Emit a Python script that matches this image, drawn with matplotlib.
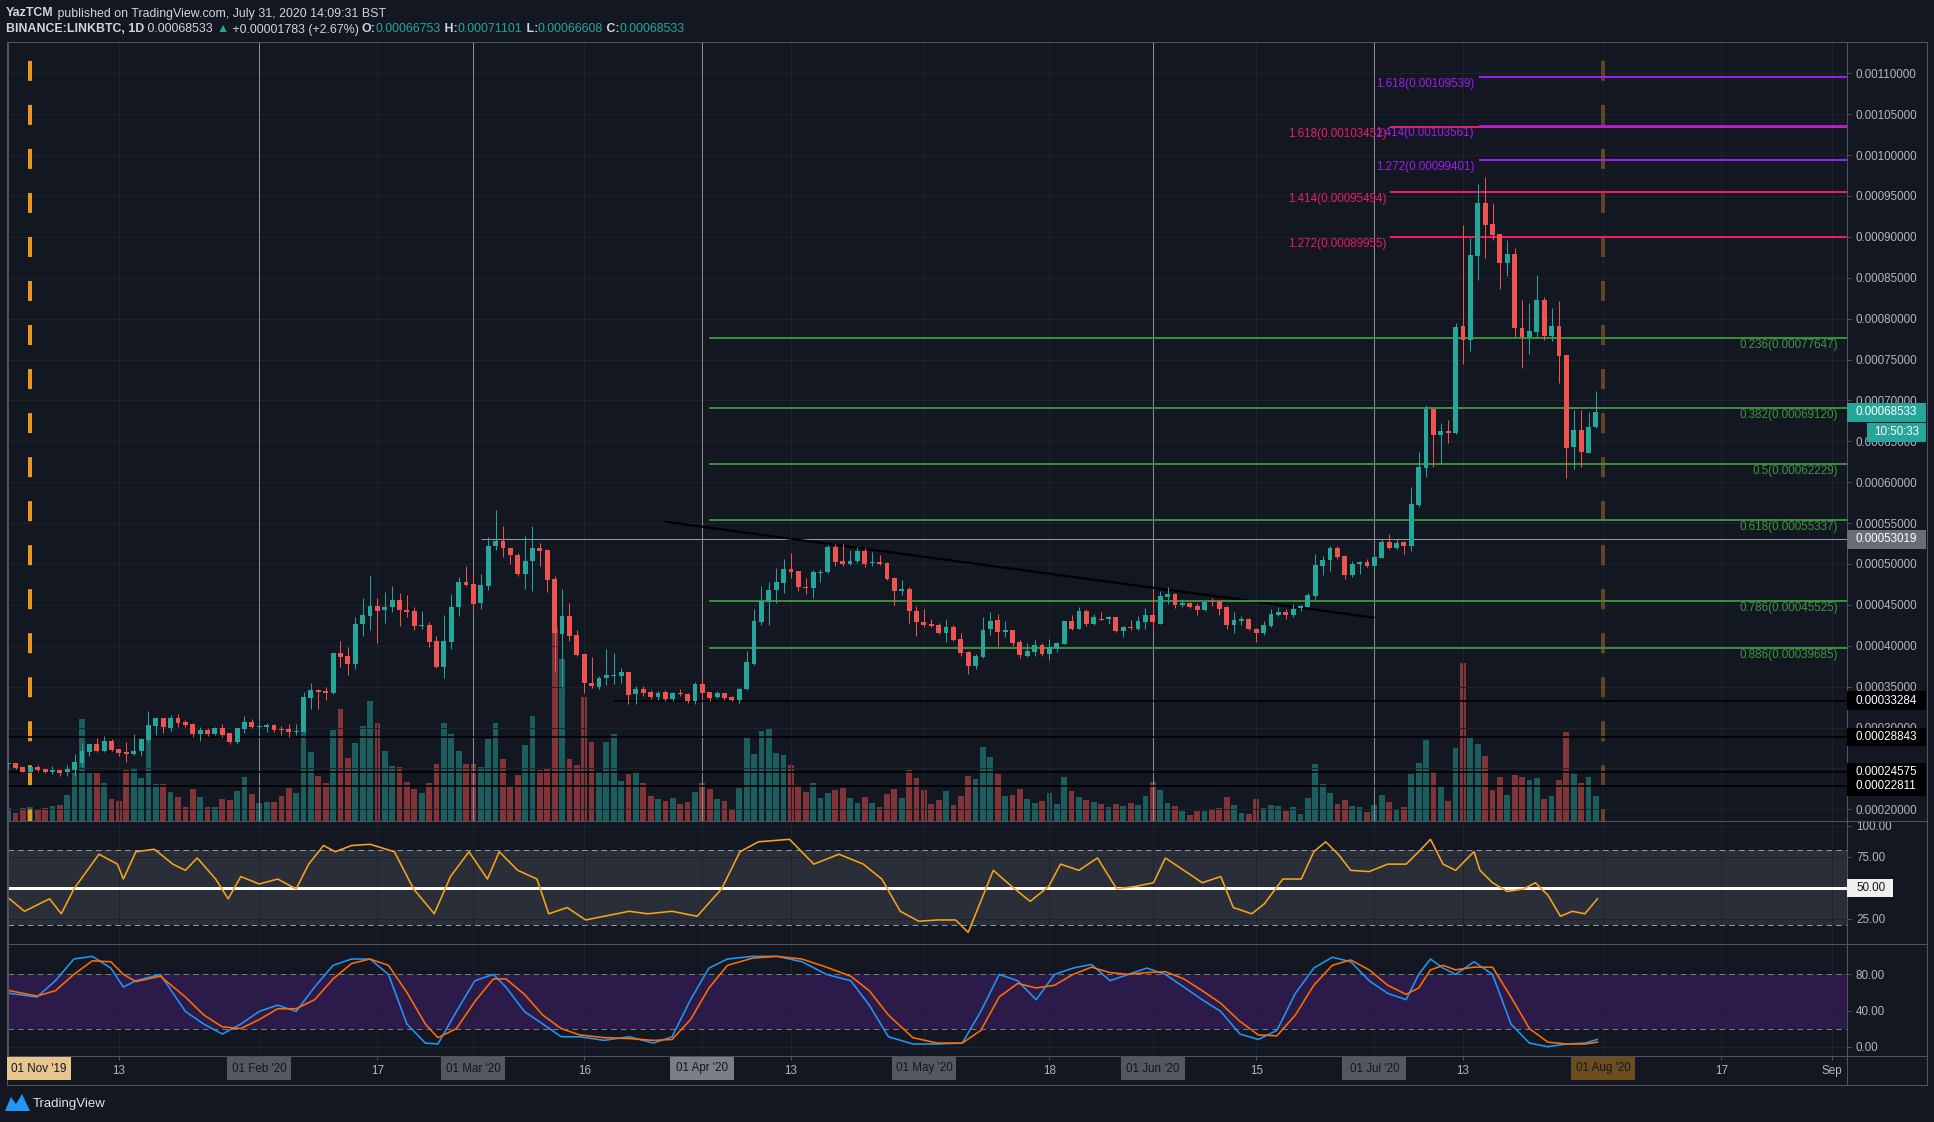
import numpy as np
import matplotlib
matplotlib.use("Agg")
import matplotlib.pyplot as plt
from matplotlib.patches import Rectangle, Polygon
from matplotlib.lines import Line2D
from matplotlib.transforms import IdentityTransform

plt.rcParams['lines.scale_dashes'] = False
FONT = ['Liberation Sans', 'DejaVu Sans']
plt.rcParams['font.family'] = FONT

# ---------------------------------------------------------------- data
# BINANCE:LINKBTC daily candles, day index 0 = 01 Jan 2020, first candle 29 Dec 2019
first_day = -3
# prices in units of 1e-5 BTC
opens = [
    25.55, 25.61, 25.16, 24.59, 25.16, 24.88, 24.59, 24.80, 24.51, 24.80,
    25.69, 27.03, 27.97, 27.11, 28.33, 27.36, 26.95, 26.75, 27.11, 28.46,
    30.20, 31.14, 29.96, 31.14, 30.65, 30.41, 29.23, 29.67, 29.23, 29.92,
    29.31, 28.25, 29.80, 30.65, 30.10, 30.04, 30.28, 29.80, 29.80, 29.50,
    29.47, 33.62, 34.55, 34.47, 34.19, 39.07, 38.70, 37.76, 42.64, 43.62,
    44.88, 44.35, 44.72, 45.65, 44.43, 44.19, 42.40, 42.56, 40.53, 37.40,
    40.45, 44.76, 47.85, 47.60, 45.20, 47.36, 52.15, 52.85, 51.99, 51.10,
    48.74, 50.33, 51.99, 51.75, 48.13, 41.42, 43.58, 41.26, 38.98, 35.45,
    34.96, 36.06, 36.34, 36.30, 36.75, 34.11, 34.76, 34.35, 33.74, 34.35,
    33.50, 34.23, 34.15, 33.25, 35.28, 34.35, 33.74, 34.19, 33.74, 33.41,
    34.72, 37.76, 42.89, 45.33, 46.79, 47.72, 49.43, 49.19, 47.24, 47.03,
    48.90, 48.98, 52.11, 50.41, 50.04, 50.41, 51.63, 50.12, 50.28, 50.16,
    48.33, 46.67, 46.99, 44.23, 42.85, 42.60, 42.48, 41.54, 42.24, 40.77,
    39.19, 37.52, 38.62, 42.03, 43.09, 41.67, 41.87, 40.41, 38.74, 39.19,
    40.04, 38.94, 39.76, 40.16, 42.97, 42.11, 44.19, 42.60, 43.33, 43.25,
    43.46, 41.79, 42.24, 42.11, 42.89, 43.70, 42.72, 46.02, 46.38, 45.04,
    45.28, 44.92, 44.43, 45.53, 45.53, 44.72, 42.48, 42.97, 43.33, 42.11,
    41.50, 42.36, 43.82, 44.07, 43.82, 44.67, 44.80, 46.14, 49.80, 50.53,
    51.99, 51.02, 48.70, 50.04, 50.28, 49.80, 50.77, 52.72, 51.99, 52.67,
    52.15, 57.27, 61.70, 68.90, 65.75, 66.23, 65.97, 79.11, 77.44, 87.64,
    94.14, 91.57, 90.37, 86.80, 87.91, 78.90, 77.70, 78.33, 82.25, 77.90,
    79.11, 75.55, 64.29, 66.33, 63.62, 66.753]
highs = [
    25.65, 25.65, 25.20, 25.20, 25.37, 24.90, 25.28, 24.92, 25.37, 26.71,
    28.05, 28.00, 28.70, 28.94, 28.58, 27.40, 28.21, 29.19, 28.70, 31.99,
    31.20, 31.20, 31.50, 31.63, 30.89, 30.53, 30.04, 29.92, 30.04, 30.41,
    29.35, 30.04, 31.38, 31.02, 30.89, 30.53, 30.41, 30.16, 30.41, 30.41,
    34.31, 35.41, 34.67, 34.92, 39.10, 40.53, 39.80, 43.46, 45.81, 48.70,
    45.89, 46.59, 47.36, 46.50, 46.22, 44.80, 44.19, 42.93, 41.14, 43.70,
    46.38, 48.46, 49.80, 48.82, 48.78, 53.25, 56.63, 54.67, 52.00, 51.38,
    53.46, 54.67, 52.52, 51.87, 48.50, 46.99, 45.28, 41.87, 39.00, 38.58,
    36.34, 39.55, 39.07, 37.24, 36.80, 35.08, 35.04, 34.63, 34.47, 34.63,
    34.30, 34.67, 34.20, 35.53, 36.34, 34.40, 34.51, 34.25, 33.86, 34.80,
    39.39, 44.55, 47.32, 47.85, 49.55, 50.65, 51.38, 49.20, 48.29, 49.31,
    49.43, 52.28, 52.48, 52.48, 51.75, 52.11, 51.99, 51.50, 51.14, 50.20,
    48.40, 48.09, 47.24, 44.84, 44.47, 43.33, 42.76, 43.33, 42.56, 41.59,
    39.39, 38.98, 43.46, 44.07, 43.94, 42.97, 41.90, 40.65, 40.37, 40.65,
    40.28, 40.77, 40.41, 43.00, 43.82, 44.80, 44.55, 43.94, 44.07, 43.58,
    43.50, 42.36, 43.09, 43.58, 44.67, 46.87, 46.75, 47.24, 46.40, 45.77,
    45.41, 45.28, 45.45, 45.89, 45.55, 44.84, 44.07, 43.58, 43.35, 42.15,
    42.97, 44.55, 44.80, 44.55, 45.16, 45.04, 46.50, 51.26, 51.02, 52.24,
    52.24, 51.05, 50.41, 50.41, 50.65, 51.38, 53.09, 53.70, 53.09, 52.80,
    59.40, 63.67, 69.40, 68.95, 67.20, 67.60, 79.50, 91.40, 89.85, 96.50,
    97.34, 94.10, 90.40, 89.64, 88.64, 82.30, 81.90, 85.34, 82.60, 81.31,
    82.15, 75.60, 68.79, 68.79, 68.53, 71.101]
lows = [
    24.88, 24.96, 24.55, 24.50, 24.59, 24.39, 24.35, 24.11, 24.11, 24.11,
    25.20, 26.54, 26.99, 27.03, 27.15, 26.54, 25.81, 26.63, 26.54, 28.25,
    29.11, 29.35, 29.59, 30.08, 30.08, 28.86, 28.37, 28.98, 29.07, 28.86,
    28.01, 28.01, 29.35, 29.96, 29.35, 29.47, 29.47, 29.07, 28.82, 29.07,
    29.40, 32.28, 32.28, 33.37, 34.11, 37.40, 36.38, 37.15, 41.18, 41.91,
    40.33, 42.76, 44.11, 42.40, 43.50, 41.91, 42.03, 39.84, 37.28, 36.06,
    39.59, 43.62, 47.36, 44.35, 44.47, 46.83, 51.75, 50.81, 50.00, 48.50,
    46.91, 46.75, 49.72, 46.54, 36.91, 34.88, 40.57, 38.74, 34.23, 34.84,
    34.72, 35.24, 35.33, 35.45, 32.89, 32.89, 33.86, 33.54, 33.41, 33.25,
    33.25, 33.86, 33.05, 32.89, 33.50, 33.25, 33.58, 33.41, 33.25, 33.01,
    34.63, 37.64, 42.56, 42.52, 45.20, 46.42, 48.33, 46.67, 46.30, 45.81,
    47.85, 48.86, 49.72, 49.80, 49.92, 50.16, 49.67, 49.80, 49.88, 48.09,
    44.96, 46.18, 42.76, 41.18, 42.28, 42.28, 41.38, 40.45, 40.57, 38.74,
    36.54, 37.15, 38.50, 41.30, 39.96, 41.06, 39.96, 38.50, 38.62, 38.74,
    38.70, 38.25, 39.19, 40.16, 41.91, 42.03, 42.40, 42.48, 43.13, 42.72,
    41.63, 41.06, 41.91, 41.91, 42.11, 41.91, 42.64, 45.16, 44.67, 44.80,
    44.67, 43.70, 44.23, 44.92, 43.82, 41.99, 41.50, 42.48, 41.95, 40.41,
    41.26, 42.24, 43.62, 43.33, 43.46, 44.19, 44.72, 45.77, 48.70, 49.19,
    50.65, 48.21, 48.46, 48.82, 49.67, 49.55, 50.70, 51.87, 51.87, 51.20,
    51.60, 57.00, 60.60, 61.83, 62.30, 64.80, 65.86, 74.50, 76.08, 84.70,
    87.44, 89.60, 83.67, 85.23, 77.80, 73.93, 75.70, 77.80, 77.44, 77.28,
    72.15, 60.50, 61.62, 61.88, 63.51, 66.608]
closes = [
    25.61, 25.08, 24.59, 25.12, 24.84, 24.59, 24.80, 24.39, 24.92, 25.81,
    27.11, 27.97, 27.11, 28.33, 27.24, 26.91, 26.79, 27.11, 28.58, 30.28,
    31.14, 30.08, 31.14, 30.53, 30.28, 29.23, 29.67, 29.23, 29.92, 29.07,
    28.25, 29.92, 30.65, 30.04, 30.16, 30.28, 29.67, 29.72, 29.47, 29.55,
    33.70, 34.55, 34.35, 34.23, 39.07, 38.62, 37.76, 42.72, 43.70, 44.88,
    44.23, 44.76, 45.65, 44.35, 44.11, 42.40, 42.56, 40.45, 37.40, 40.53,
    44.76, 47.85, 47.48, 45.08, 47.48, 52.24, 52.85, 51.95, 51.06, 48.74,
    50.41, 51.99, 51.54, 48.01, 41.54, 43.58, 41.18, 38.86, 35.45, 35.08,
    36.10, 36.38, 36.40, 36.75, 33.98, 34.76, 34.23, 33.74, 34.27, 33.50,
    34.23, 34.11, 33.25, 35.28, 34.23, 33.62, 34.23, 33.62, 33.41, 34.76,
    37.97, 42.97, 45.45, 46.87, 47.85, 49.43, 49.07, 47.15, 47.03, 49.07,
    49.07, 52.11, 50.28, 50.04, 50.41, 51.63, 50.04, 50.28, 50.04, 48.21,
    46.67, 46.99, 44.23, 42.89, 42.52, 42.40, 41.54, 42.24, 40.69, 39.11,
    37.52, 38.70, 41.95, 42.97, 41.67, 41.87, 40.28, 38.86, 39.31, 40.04,
    38.94, 39.88, 40.28, 42.97, 42.07, 44.19, 42.60, 43.46, 43.21, 43.46,
    41.75, 42.24, 42.15, 42.97, 43.70, 42.85, 46.14, 46.38, 45.04, 45.28,
    44.80, 44.43, 45.41, 45.41, 44.55, 42.48, 43.09, 43.33, 41.99, 41.50,
    42.48, 43.94, 44.07, 43.82, 44.55, 44.92, 46.26, 49.92, 50.53, 51.99,
    50.89, 48.70, 50.04, 50.28, 49.80, 50.89, 52.72, 51.99, 52.60, 52.20,
    57.37, 61.83, 68.90, 65.75, 66.23, 66.02, 78.96, 77.44, 87.80, 94.14,
    91.47, 90.21, 86.80, 87.91, 78.90, 77.70, 78.48, 82.25, 77.90, 79.11,
    75.45, 64.19, 66.33, 63.72, 66.70, 68.533]
# relative volume
volume = [
    39, 24, 39, 42, 36, 39, 45, 48, 78, 150,
    306, 142, 142, 114, 66, 60, 153, 156, 129, 275,
    111, 111, 87, 72, 42, 96, 72, 42, 42, 66,
    63, 90, 132, 81, 54, 57, 57, 75, 99, 84,
    303, 207, 135, 114, 273, 336, 189, 234, 285, 360,
    294, 210, 165, 162, 117, 96, 84, 114, 171, 294,
    261, 210, 171, 171, 162, 246, 294, 186, 108, 138,
    228, 315, 153, 159, 582, 486, 186, 168, 372, 237,
    150, 237, 261, 120, 141, 150, 114, 75, 66, 60,
    69, 51, 57, 87, 114, 96, 66, 60, 33, 99,
    252, 201, 270, 279, 204, 198, 168, 108, 87, 114,
    69, 84, 93, 99, 69, 54, 72, 54, 42, 81,
    96, 69, 153, 129, 93, 51, 63, 90, 48, 75,
    135, 126, 222, 192, 141, 75, 78, 96, 66, 54,
    60, 84, 51, 132, 90, 72, 63, 57, 51, 42,
    51, 45, 54, 48, 75, 117, 93, 54, 45, 30,
    18, 30, 30, 36, 39, 72, 48, 24, 21, 66,
    39, 48, 45, 30, 42, 21, 69, 171, 111, 84,
    51, 63, 45, 42, 27, 48, 78, 57, 33, 40,
    139, 172, 242, 146, 100, 60, 217, 473, 251, 229,
    193, 91, 130, 78, 136, 132, 123, 127, 64, 73,
    121, 265, 141, 112, 130, 73]

# RSI
rsi_days = [-2.8, -0.8, 2.6, 4.2, 5.9, 9.3, 11.8, 12.6, 14.3, 16.8, 19.3, 21, 22.6, 25.1, 26.8, 28.5,
            31, 33.5, 36, 37.7, 39.7, 41.3, 43.5, 46, 49.3, 51.9, 54.7, 56.9, 59.4, 61.9, 63.5, 66,
            68.6, 70.2, 72.7, 75.2, 77.7, 81.1, 83.6, 86.9, 90.3, 93.6, 96.1, 98.6, 102.8, 106.1,
            109.5, 112.8, 115.3, 117.8, 120.3, 122.8, 125.3, 127, 128.7, 130.4, 132.9, 135.4, 137.9,
            139.5, 142, 144.5, 147.1, 149.6, 152.1, 153.7, 156.2, 158.7, 161.2, 162.9, 165.4, 167.1,
            169.6, 172.1, 173.8, 175.4, 177.1, 178.8, 181.3, 183.8, 186.3, 188, 189.6, 191.3, 193,
            195.5, 196.3, 198, 200, 202.2, 203.8, 205.5, 207.2, 208.8, 210.5, 212.2]
rsi_vals = [41, 31, 41, 29, 49, 77, 69, 57, 79, 81, 69, 64, 74, 57, 41, 59,
            53, 57, 49, 69, 84, 79, 84, 85, 79, 49, 29, 59, 79, 57, 79, 64,
            57, 29, 34, 24, 27, 31, 29, 31, 27, 49, 79, 87, 89, 69,
            77, 69, 57, 31, 23, 24, 24, 14, 39, 64, 51, 39, 51,
            69, 64, 74, 49, 51, 54, 74, 64, 54, 59, 34, 29, 37,
            57, 57, 79, 87, 77, 64, 63, 69, 69, 79, 89, 69, 64,
            79, 64, 54, 47, 49, 54, 44, 27, 31, 29, 41]

# Stochastic RSI
st_days = [-2.8, 0.9, 3.4, 5.9, 8.4, 10.9, 12.6, 14.3, 17.6, 21, 23.5, 26, 28.5, 31, 33.5, 36, 38.5,
           41, 43.5, 46, 48.5, 51, 53.5, 55.2, 57.7, 60.2, 62.7, 64.4, 66.9, 69.4, 71.9, 74.4, 77.7,
           81.1, 84.4, 86.9, 89.4, 91.9, 94.4, 97.8, 101.1, 104.5, 107.8, 111.1, 113.6, 116.2, 119.5,
           122.8, 126.2, 128.7, 131.2, 133.7, 136.2, 138.7, 141.2, 143.7, 146.2, 148.7, 151.2, 153.7,
           156.2, 158.7, 161.2, 163.8, 166.3, 168.8, 171.3, 173.8, 176.3, 178.8, 181.3, 183.8, 186.3,
           188, 189.6, 191.3, 193, 195.5, 198, 200.5, 203, 205.5, 208, 210.5, 212.2]
st_k = [59, 55, 73, 97, 100, 87, 66, 73, 80, 39, 25, 14, 25, 39, 46, 39, 66,
        90, 97, 97, 80, 25, 4, 3, 39, 73, 80, 66, 39, 25, 11, 11, 7,
        11, 4, 11, 52, 87, 97, 100, 100, 94, 80, 73, 46, 11, 3,
        3, 4, 39, 80, 73, 52, 80, 87, 91, 73, 80, 87, 80,
        66, 52, 39, 14, 8, 18, 59, 87, 99, 94, 73, 59, 52,
        80, 97, 87, 80, 94, 80, 25, 4, 0, 3, 4, 8]
st_d = [62, 56, 62, 80, 95, 94, 80, 72, 78, 55, 35, 22, 20, 30, 42, 42, 52,
        75, 92, 97, 90, 60, 25, 10, 20, 50, 75, 75, 58, 35, 20, 13, 10,
        9, 7, 8, 30, 65, 90, 98, 100, 97, 88, 78, 62, 35, 10,
        4, 4, 18, 55, 70, 65, 68, 80, 88, 82, 80, 82, 83,
        75, 62, 48, 28, 13, 12, 35, 68, 90, 96, 85, 68, 58,
        65, 85, 90, 85, 88, 88, 55, 20, 5, 3, 3, 5]

# Fibonacci levels (x1e-5)
green_ratios = ['0.236', '0.382', '0.5', '0.618', '0.786', '0.886']
green_levels = [77.647, 69.120, 62.229, 55.337, 45.525, 39.685]
pink_ratios = ['1.272', '1.414', '1.618']
pink_levels = [89.955, 95.494, 103.452]
purple_ratios = ['1.272', '1.414', '1.618']
purple_levels = [99.401, 103.561, 109.539]
# horizontal lines (x1e-5) with their start day
gray_level, gray_start = 53.019, 61
black_levels = [33.284, 28.843, 24.575, 22.811]
black_starts = [79, -3.02, -3.02, -3.02]
# trend line
trend_days = [85.9, 182.0]
trend_prices = [55.17, 43.43]
# vertical drawings
vline_days = [31, 60, 91, 152, 182]
orange_days = [0, 213]
# time axis
tick_days = [12, 31, 47, 60, 75, 91, 103, 121, 138, 152, 166, 182, 194, 213, 229, 244]
tick_labels = ['13', 'Feb', '17', 'Mar', '16', 'Apr', '13', 'May', '18', 'Jun', '15', 'Jul',
               '13', 'Aug', '17', 'Sep']
box_days = [0, 31, 60, 91, 121, 152, 182, 213]
box_texts = ["01 Nov '19", "01 Feb '20", "01 Mar '20", "01 Apr '20", "01 May '20",
             "01 Jun '20", "01 Jul '20", "01 Aug '20"]
box_months = [None, 'Feb', 'Mar', 'Apr', 'May', 'Jun', 'Jul', 'Aug']
box_colors = ['#e6c58f', '#54575f', '#54575f', '#7b7e87', '#54575f', '#54575f', '#54575f', '#6b4d1e']
last_price = 68.533

# ---------------------------------------------------------------- style
BG = '#131722'
GRID = '#1e222d'
BORDER = '#50535e'
TXT = '#b2b5be'
WHITE = '#d1d4dc'
UP = '#26a69a'
DN = '#ef5350'
PX = 0.72
W, H = 1934, 1122
S = 1e-5
FS = 8.4

fig = plt.figure(figsize=(W / 100, H / 100), dpi=100, facecolor=BG)


def rect(x0, y0, x1, y1):
    return [x0 / W, 1 - y1 / H, (x1 - x0) / W, (y1 - y0) / H]


LEFT, RIGHT = 8, 1847
TOP, B1, B2, B3 = 42, 820.7, 944.3, 1056
ax_vol = fig.add_axes(rect(LEFT, TOP, RIGHT, B1), zorder=1)
ax = fig.add_axes(rect(LEFT, TOP, RIGHT, B1), zorder=2)
ax_rsi = fig.add_axes(rect(LEFT, B1, RIGHT, B2), zorder=2)
ax_st = fig.add_axes(rect(LEFT, B2, RIGHT, B3), zorder=2)

XLIM = (-3.02, 246.0)
days = np.arange(first_day, first_day + len(closes))
O = np.array(opens) * S
Hh = np.array(highs) * S
Ll = np.array(lows) * S
C = np.array(closes) * S
col = np.where(C >= O, UP, DN)

for a in (ax_vol, ax, ax_rsi, ax_st):
    a.set_xlim(*XLIM)
ax_vol.set_facecolor(BG)
ax.set_facecolor('none')
ax_rsi.set_facecolor(BG)
ax_st.set_facecolor(BG)
for sp in ax_vol.spines.values():
    sp.set_visible(False)
ax_vol.set_xticks([])
ax_vol.set_yticks([])

ax.set_ylim(18.607 * S, 113.83 * S)
ax_rsi.set_ylim(4.4, 104.0)
ax_st.set_ylim(-10.3, 113.3)

# volume
ax_vol.bar(days, volume, width=0.78, color=col, alpha=0.5, linewidth=0)
ax_vol.set_ylim(0, 2336)

# grid + ticks
for a in (ax, ax_rsi, ax_st):
    a.set_xticks(tick_days)
    a.grid(True, color=GRID, lw=1 * PX, zorder=0)
    a.set_axisbelow(True)
    a.yaxis.tick_right()
    a.tick_params(axis='y', colors=BORDER, labelcolor=TXT, labelsize=FS, length=4 * PX,
                  width=1 * PX, pad=5 * PX)
    for sp in a.spines.values():
        sp.set_color(BORDER)
        sp.set_linewidth(1 * PX)
ax.tick_params(axis='x', length=0, labelbottom=False)
ax_rsi.tick_params(axis='x', length=0, labelbottom=False)
# month names that sit under a drawing's date box are covered by that box
ax_st.set_xticklabels([('' if l in box_months else l) for l in tick_labels])
ax_st.tick_params(axis='x', colors=BORDER, labelcolor=TXT, labelsize=FS, length=4 * PX,
                  width=1 * PX, pad=5 * PX)

yt = np.arange(20, 111, 5) * S
ax.set_yticks(yt)
ax.set_yticklabels([f'{v:.8f}' for v in yt])
ax_rsi.set_yticks([25, 50, 75, 100])
ax_rsi.set_yticklabels(['25.00', '50.00', '75.00', '100.00'])
ax_st.set_yticks([0, 40, 80])
ax_st.set_yticklabels(['0.00', '40.00', '80.00'])

# vertical drawings
for d in vline_days:
    ax.axvline(d, color='#8a8d96', lw=1 * PX, zorder=1)
ax.axvline(orange_days[0], color='#e8981e', lw=4 * PX, ls=(6, (14.4, 17.3)), zorder=1)
ax.axvline(orange_days[1], color='#e8981e', alpha=0.35, lw=4 * PX, ls=(6, (14.4, 17.3)), zorder=1)

# horizontal drawings
ax.hlines(gray_level * S, gray_start, XLIM[1], color='#9598a1', lw=1 * PX, zorder=2)
for lv, st in zip(black_levels, black_starts):
    ax.hlines(lv * S, st, XLIM[1], color='#000000', lw=1.6 * PX, zorder=2)
ax.plot(trend_days, np.array(trend_prices) * S, color='#000000', lw=2.2 * PX, zorder=2,
        solid_capstyle='butt')

GREEN, GREEN_T = '#388e3c', '#3f9444'
PINK = '#e91e63'
PURPLE = '#9c1ff0'
for r, lv in zip(green_ratios, green_levels):
    ax.hlines(lv * S, 91.9, XLIM[1], color=GREEN, lw=2 * PX, zorder=3)
    ax.annotate(f'{r}({lv * S:.8f})', xy=(244.8, lv * S), xytext=(0, -7), textcoords='offset pixels',
                ha='right', va='center', color=GREEN_T, fontsize=FS, zorder=3)
for r, lv in zip(pink_ratios, pink_levels):
    ax.hlines(lv * S, 184.1, XLIM[1], color=PINK, lw=2 * PX, zorder=3)
    ax.annotate(f'{r}({lv * S:.8f})', xy=(183.6, lv * S), xytext=(0, -7), textcoords='offset pixels',
                ha='right', va='center', color=PINK, fontsize=FS, zorder=3)
for r, lv in zip(purple_ratios, purple_levels):
    ax.hlines(lv * S, 196.2, XLIM[1], color=PURPLE, lw=2 * PX, zorder=3)
    ax.annotate(f'{r}({lv * S:.8f})', xy=(195.5, lv * S), xytext=(0, -7), textcoords='offset pixels',
                ha='right', va='center', color=PURPLE, fontsize=FS, zorder=3)

# candles
ax.vlines(days, Ll, Hh, colors=col, lw=1 * PX, zorder=4)
body = np.maximum(np.abs(C - O), 0.12 * S)
ax.bar(days, body, bottom=np.minimum(O, C), width=0.66, color=col, linewidth=0, zorder=5)

# RSI pane
ax_rsi.axhspan(20, 80, color='#2a2e39', zorder=0.5, lw=0)
for v in (80, 20):
    ax_rsi.axhline(v, color='#9598a1', lw=1 * PX, ls=(0, (4, 3)), zorder=1)
ax_rsi.axhline(50, color='#ffffff', lw=3 * PX, zorder=2)
ax_rsi.plot(rsi_days, rsi_vals, color='#f5a31a', lw=1.6 * PX, zorder=3)

# Stoch RSI pane
ax_st.axhspan(20, 80, color='#2c1a4b', zorder=0.5, lw=0)
for v in (80, 20):
    ax_st.axhline(v, color='#787b86', lw=1 * PX, ls=(0, (4, 3)), zorder=1)
ax_st.plot(st_days, st_k, color='#2196f3', lw=1.6 * PX, zorder=3)
ax_st.plot(st_days, st_d, color='#ff6d00', lw=1.6 * PX, zorder=3)

# ---------------------------------------------------------------- frame lines
IT = IdentityTransform()


def fline(xs, ys, color=BORDER, lw=1):
    fig.add_artist(Line2D(xs, [H - y for y in ys], transform=IT, color=color, lw=lw * PX, zorder=9))


fline([7, 1927], [TOP, TOP])
fline([7, 1927], [B1, B1])
fline([7, 1927], [B2, B2])
fline([7, 1927], [B3, B3])
fline([7, 1927], [1085, 1085])
fline([7, 7], [TOP, 1085])
fline([1927, 1927], [TOP, 1085])
fline([RIGHT, RIGHT], [TOP, 1085])


def fbox(x0, x1, yc, h, bg, text, fg, tx=None, ha='left'):
    fig.add_artist(Rectangle((x0, yc - h / 2), x1 - x0, h, transform=IT, facecolor=bg,
                             edgecolor='none', zorder=10))
    fig.text(tx if tx is not None else x0 + 9, yc, text, transform=IT, color=fg, fontsize=FS,
             va='center', ha=ha, zorder=11)


def ypix(a, v):
    return a.transData.transform((0, v))[1]


# price scale labels
yl = ypix(ax, last_price * S)
fbox(RIGHT, 1926, yl, 19, UP, f'{last_price * S:.8f}', '#ffffff')
fbox(1867, 1926, yl - 20, 19, UP, '10:50:33', '#ffffff', tx=1874)
fbox(RIGHT, 1926, ypix(ax, gray_level * S), 19, '#6a6d78', f'{gray_level * S:.8f}', '#ffffff')
for lv in black_levels:
    fbox(RIGHT, 1926, ypix(ax, lv * S), 18.5, '#000000', f'{lv * S:.8f}', '#ffffff')
fbox(RIGHT, 1893, ypix(ax_rsi, 50), 18, '#f0f0f0', '50.00', '#131722')

# time axis boxes
for d, t, c in zip(box_days, box_texts, box_colors):
    xc = ax_st.transData.transform((d, 0))[0]
    x0 = max(xc - 32, 7)
    fbox(x0, x0 + 64, H - 1068.5, 23, c, t, '#131722', tx=x0 + 32, ha='center')

# ---------------------------------------------------------------- header
rend = fig.canvas.get_renderer()


def run(x, y, parts, size=8.9):
    for s, c, w in parts:
        t = fig.text(x, H - y, s, transform=IT, color=c, fontsize=size, fontweight=w,
                     va='center', ha='left', zorder=12)
        x += t.get_window_extent(rend).width


run(6, 13.5, [('YazTCM', WHITE, 'bold'),
              (' published on TradingView.com, July 31, 2020 14:09:31 BST', WHITE, 'normal')])
run(6, 29.5, [('BINANCE:LINKBTC, 1D', WHITE, 'bold'), (' 0.00068533 ', WHITE, 'normal'),
              ('\u25B2', UP, 'normal'), (' +0.00001783 (+2.67%) ', WHITE, 'normal'),
              ('O:', WHITE, 'bold'), ('0.00066753', UP, 'normal'),
              (' H:', WHITE, 'bold'), ('0.00071101', UP, 'normal'),
              (' L:', WHITE, 'bold'), ('0.00066608', UP, 'normal'),
              (' C:', WHITE, 'bold'), ('0.00068533', UP, 'normal')])

# logo
fig.add_artist(Polygon([(5, H - 1111), (11, H - 1097), (16, H - 1104), (22, H - 1094),
                        (30, H - 1111)], closed=True, transform=IT, facecolor='#2196f3',
                       edgecolor='none', zorder=12))
fig.text(33, H - 1103.5, 'TradingView', transform=IT, color='#e0e3eb', fontsize=9.5, va='center',
         ha='left', zorder=12)

fig.savefig('out.png', dpi=100, facecolor=BG)
